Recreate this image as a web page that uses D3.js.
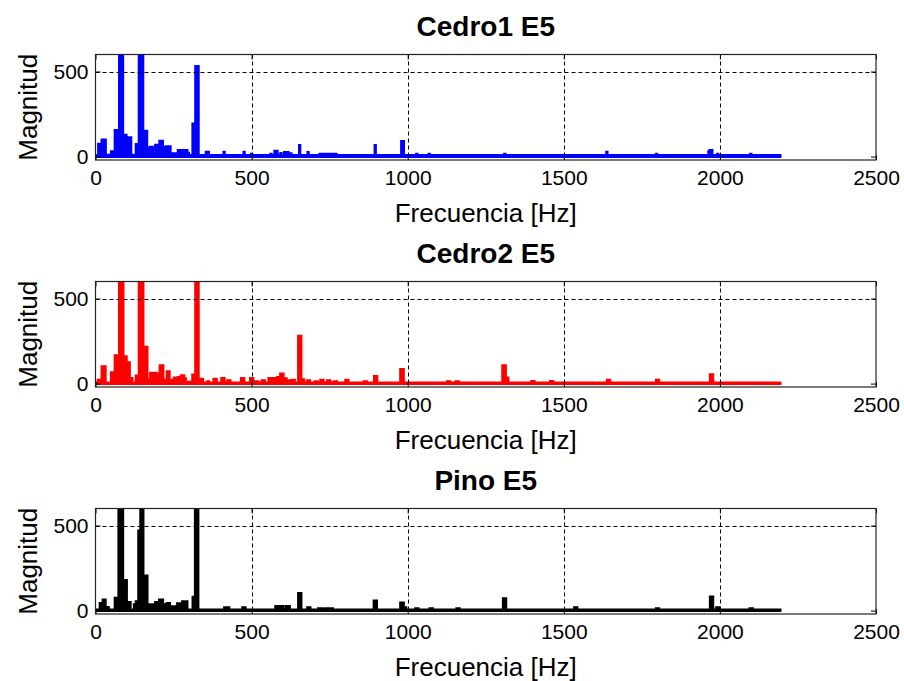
<!DOCTYPE html>
<html><head><meta charset="utf-8">
<script src="https://cdn.jsdelivr.net/npm/d3@7"></script>
<style>
body{margin:0;background:#fff}
svg{display:block}
text{font-family:"Liberation Sans",Arial,Helvetica,sans-serif;fill:#000}
</style>
</head><body>
<svg id="chart" width="904" height="681"></svg>
<script>
// ---- data ----
const titles = ["Cedro1 E5", "Cedro2 E5", "Pino E5"];
const seriesColors = ["#0000ff", "#ff0000", "#000000"];
const xTickValues = [0, 500, 1000, 1500, 2000, 2500];
const yTickValues = [0, 500];
const xLabel = "Frecuencia [Hz]";
const yLabel = "Magnitud";

// [frequency Hz, magnitude] samples (values above 600 are clipped in the plot)
const cedro1 = [
  [0,8],[6,8],[12,75],[18,75],[22,100],[30,100],[35,10],[48,10],[52,30],[60,30],
  [64,155],[74,155],[78,1200],[86,1200],[90,127],[97,127],[101,112],[112,112],[116,10],[128,10],
  [131,73],[137,73],[141,1200],[150,1200],[155,150],[163,150],[167,49],[172,49],[176,57],[182,57],
  [185,10],[190,10],[193,69],[203,69],[207,92],[214,92],[217,57],[224,57],[228,60],[238,60],
  [242,18],[262,18],[266,37],[292,37],[296,22],[302,8],[309,8],[313,193],[318,193],[322,531],
  [328,531],[332,8],[352,8],[355,28],[361,28],[365,8],[409,8],[412,28],[415,8],[473,8],
  [476,28],[479,8],[497,8],[500,16],[503,8],[559,8],[562,16],[565,8],[572,8],[575,33],
  [581,33],[585,8],[591,8],[594,20],[597,8],[603,8],[606,26],[616,26],[620,8],[623,8],
  [626,18],[629,8],[651,8],[654,67],[657,8],[678,8],[681,26],[684,8],[716,8],[720,15],
  [770,15],[773,8],[893,8],[896,67],[899,8],[978,8],[981,90],[986,90],[989,8],[1026,8],
  [1029,16],[1032,8],[1066,8],[1069,16],[1072,8],[1308,8],[1311,16],[1314,8],[1635,8],[1638,28],
  [1641,8],[1794,8],[1797,16],[1800,8],[1962,8],[1965,30],[1969,37],[1974,37],[1977,8],[1990,8],
  [1993,16],[1996,8],[2096,8],[2099,16],[2102,8],[2197,8]
];

const cedro2 = [
  [0,6],[6,6],[9,22],[14,22],[18,6],[22,101],[30,101],[34,6],[48,6],[52,66],
  [60,66],[64,165],[74,165],[78,1200],[87,1200],[91,160],[98,160],[101,125],[108,125],[111,32],
  [116,32],[120,6],[128,6],[131,46],[137,46],[141,1200],[151,1200],[155,216],[164,216],[168,22],
  [174,22],[177,62],[181,62],[184,25],[187,25],[189,62],[192,62],[196,58],[204,58],[208,106],
  [215,106],[219,22],[228,22],[230,72],[235,72],[239,22],[250,22],[253,35],[262,30],[266,38],
  [272,30],[276,48],[282,48],[286,30],[292,10],[308,10],[313,53],[318,53],[322,1200],[328,1200],
  [332,10],[336,28],[342,28],[346,6],[357,6],[360,13],[366,6],[377,6],[380,28],[386,28],
  [390,6],[402,6],[405,32],[411,32],[415,6],[421,6],[424,18],[430,18],[434,6],[465,6],
  [468,32],[474,32],[478,6],[494,6],[497,32],[503,32],[507,6],[510,6],[513,13],[519,13],
  [523,6],[531,6],[534,18],[540,18],[544,6],[553,6],[556,32],[562,32],[566,6],[569,6],
  [572,32],[580,32],[584,38],[590,38],[594,58],[600,58],[604,30],[610,30],[614,18],[620,18],
  [624,6],[627,6],[630,22],[636,22],[640,6],[648,6],[651,280],[657,280],[661,25],[666,25],
  [670,6],[677,6],[680,18],[685,18],[689,6],[701,6],[704,13],[710,13],[714,6],[719,6],
  [722,22],[728,22],[732,6],[741,6],[744,18],[750,18],[754,6],[762,6],[765,13],[771,13],
  [775,6],[799,6],[802,22],[808,22],[812,6],[858,6],[861,13],[867,13],[871,6],[891,6],
  [894,44],[900,44],[904,6],[975,6],[978,85],[985,85],[989,6],[1125,6],[1128,12],[1134,12],
  [1138,6],[1152,6],[1155,12],[1161,12],[1165,6],[1302,6],[1305,107],[1312,107],[1316,35],[1320,35],
  [1324,6],[1395,6],[1398,14],[1404,14],[1408,6],[1455,6],[1458,14],[1464,14],[1468,6],[1637,6],
  [1640,22],[1646,22],[1650,6],[1794,6],[1797,22],[1803,22],[1807,6],[1967,6],[1970,54],[1976,54],
  [1980,6],[2197,6]
];

const pino = [
  [0,6],[12,6],[16,44],[22,44],[25,64],[30,64],[34,20],[40,20],[44,6],[60,6],
  [64,75],[72,75],[76,1200],[86,1200],[90,179],[98,179],[102,50],[110,50],[114,6],[122,6],
  [125,36],[128,36],[131,54],[136,54],[139,470],[143,470],[145,1200],[151,1200],[155,205],[164,205],
  [168,36],[190,36],[193,50],[202,50],[206,64],[214,64],[218,36],[227,36],[230,44],[236,44],
  [240,24],[260,24],[264,42],[276,42],[280,54],[292,54],[296,6],[310,6],[313,80],[318,80],
  [320,1200],[327,1200],[331,6],[411,6],[414,18],[426,18],[430,6],[469,6],[472,18],[478,18],
  [482,6],[575,6],[578,26],[600,26],[604,6],[609,6],[612,26],[620,26],[624,6],[648,6],
  [651,102],[657,102],[661,6],[677,6],[680,18],[686,18],[690,6],[712,6],[715,12],[728,12],
  [732,6],[737,6],[740,12],[758,12],[762,6],[890,6],[893,58],[899,58],[903,6],[975,6],
  [978,46],[985,46],[989,18],[993,18],[997,6],[1023,6],[1026,12],[1032,12],[1036,6],[1069,6],
  [1072,12],[1078,12],[1082,6],[1155,6],[1158,12],[1164,12],[1168,6],[1304,6],[1307,72],[1313,72],
  [1317,6],[1532,6],[1535,18],[1541,18],[1545,6],[1794,6],[1797,12],[1803,12],[1807,6],[1967,6],
  [1970,82],[1976,82],[1980,6],[1987,6],[1990,18],[1996,18],[2000,6],[2094,6],[2097,12],[2103,12],
  [2107,6],[2197,6]
];

const allSeries = [cedro1, cedro2, pino];

// ---- layout ----
const svg = d3.select("#chart");
const plotLeft = 95.5, plotRight = 876;
const panelTops = [54.5, 281.5, 508.5];
const panelHeight = 105.5;
const fontTick = 21, fontLabel = 26, fontTitle = 28;

panelTops.forEach((top, i) => {
  const bottom = top + panelHeight;
  const x = d3.scaleLinear().domain([0, 2500]).range([plotLeft, plotRight]);
  const y = d3.scaleLinear().domain([-20, 600]).range([bottom, top]);
  const g = svg.append("g");

  const clipId = "clip" + i;
  svg.append("clipPath").attr("id", clipId)
    .append("rect").attr("x", plotLeft).attr("y", top)
    .attr("width", plotRight - plotLeft).attr("height", panelHeight);

  const data = allSeries[i];
  const color = seriesColors[i];
  const area = d3.area().x(d => x(d[0])).y0(y(-8)).y1(d => y(d[1])).curve(d3.curveStep);
  const line = d3.line().x(d => x(d[0])).y(d => y(d[1])).curve(d3.curveStep);
  const dg = g.append("g").attr("clip-path", `url(#${clipId})`);
  dg.append("path").datum(data).attr("d", area).attr("fill", color).attr("stroke", "none");
  dg.append("path").datum(data).attr("d", line).attr("fill", "none")
    .attr("stroke", color).attr("stroke-width", 2.4).attr("stroke-linejoin", "miter");

  // grid (dashed, on top of data)
  const grid = g.append("g").attr("stroke", "#000").attr("stroke-width", 1)
    .attr("stroke-dasharray", "4,3").attr("fill", "none");
  xTickValues.filter(v => v > 0 && v < 2500).forEach(v => {
    grid.append("line").attr("x1", Math.round(x(v)) + 0.5).attr("x2", Math.round(x(v)) + 0.5)
      .attr("y1", top).attr("y2", bottom);
  });
  yTickValues.filter(v => v > 0).forEach(v => {
    grid.append("line").attr("x1", plotLeft).attr("x2", plotRight)
      .attr("y1", Math.round(y(v)) + 0.5).attr("y2", Math.round(y(v)) + 0.5);
  });

  // axes with inward ticks
  const ax = g.append("g").attr("transform", `translate(0,${bottom})`)
    .call(d3.axisBottom(x).tickValues(xTickValues).tickFormat(d3.format("d"))
      .tickSize(-5).tickPadding(10));
  const axTop = g.append("g").attr("transform", `translate(0,${top})`)
    .call(d3.axisTop(x).tickValues(xTickValues).tickFormat("").tickSize(-5));
  const ay = g.append("g").attr("transform", `translate(${plotLeft},0)`)
    .call(d3.axisLeft(y).tickValues(yTickValues).tickFormat(d3.format("d"))
      .tickSize(-5).tickPadding(7));
  const ayR = g.append("g").attr("transform", `translate(${plotRight},0)`)
    .call(d3.axisRight(y).tickValues(yTickValues).tickFormat("").tickSize(-5));
  [ax, axTop, ay, ayR].forEach(a => {
    a.select(".domain").remove();
    a.selectAll("line").attr("stroke", "#000");
    a.selectAll("text").attr("font-size", fontTick)
      .attr("font-family", '"Liberation Sans", Arial, sans-serif').attr("fill", "#000");
  });

  // box
  g.append("rect").attr("x", plotLeft).attr("y", top)
    .attr("width", plotRight - plotLeft).attr("height", panelHeight)
    .attr("fill", "none").attr("stroke", "#222").attr("stroke-width", 1.2);

  // labels
  const cx = (plotLeft + plotRight) / 2;
  g.append("text").attr("x", cx).attr("y", top - 19).attr("text-anchor", "middle")
    .attr("font-size", fontTitle).attr("font-weight", "bold").text(titles[i]);
  g.append("text").attr("x", cx).attr("y", bottom + 62).attr("text-anchor", "middle")
    .attr("font-size", fontLabel).text(xLabel);
  g.append("text").attr("transform", `translate(37,${(top + bottom) / 2}) rotate(-90)`)
    .attr("text-anchor", "middle").attr("font-size", fontLabel).text(yLabel);
});
</script>
</body></html>
